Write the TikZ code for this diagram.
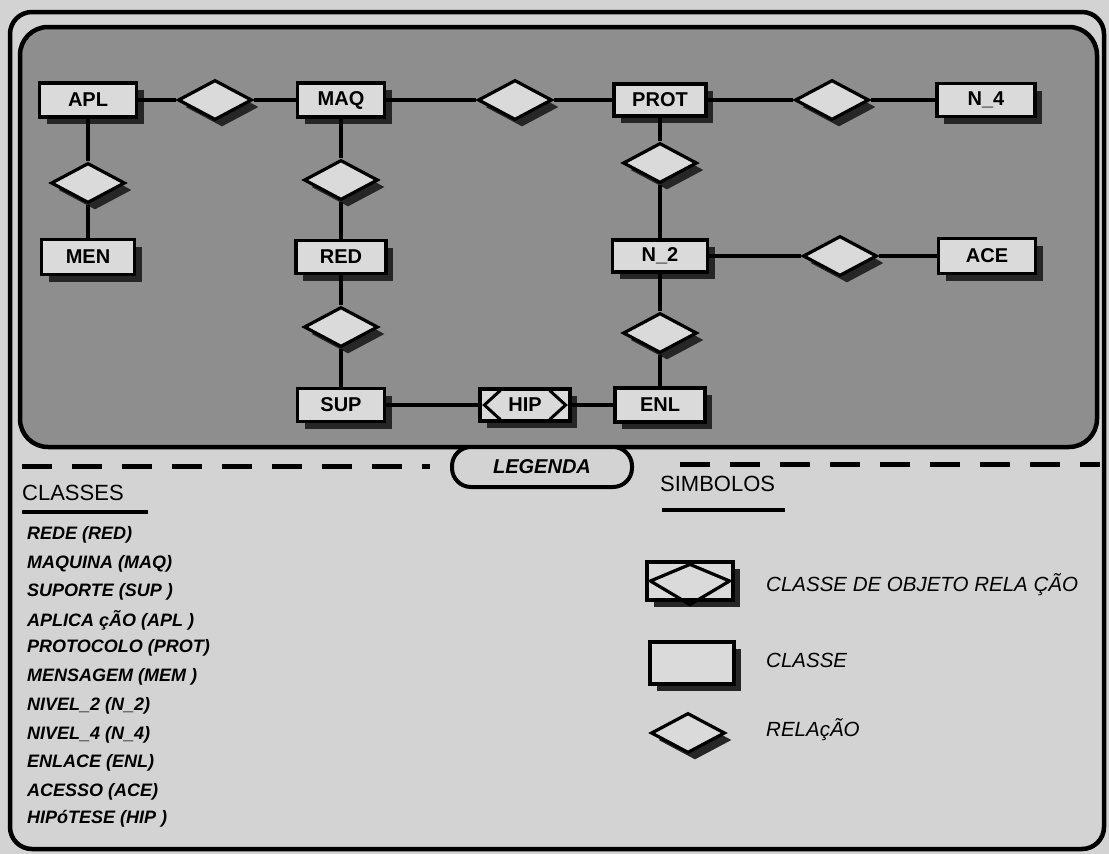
\documentclass[tikz,border=0pt]{standalone}
\usepackage{fontspec}
\setmainfont{Liberation Sans}
\usetikzlibrary{shapes.geometric,shadows,calc}
\newcommand\fsz[1]{\fontsize{#1}{#1}\selectfont}
\definecolor{bg}{HTML}{D3D3D3}
\definecolor{panel}{HTML}{8E8E8E}
\definecolor{boxfill}{HTML}{DADADA}
\begin{document}
\begin{tikzpicture}[x=1pt,y=-1pt,
  shad/.style={drop shadow={shadow xshift=7pt,shadow yshift=-7pt,fill=black!85,opacity=1}},
  cls/.style={draw=black,line width=3.2pt,fill=boxfill,minimum width=92pt,minimum height=34pt,
    inner sep=0pt,font=\bfseries\fsz{20},shad},
  rel/.style={diamond,draw=black,line width=3.2pt,fill=boxfill,minimum width=74pt,minimum height=40pt,
    aspect=1.9,inner sep=0pt,shad},
  conn/.style={line width=4.5pt},
  item/.style={anchor=west,inner sep=0pt,font=\bfseries\itshape\fsz{18}},
  symtxt/.style={anchor=west,inner sep=0pt,font=\itshape\fsz{20.5}},
  head/.style={anchor=west,inner sep=0pt,font=\fsz{22}},
  dashline/.style={line width=5pt,dash pattern=on 30pt off 20pt}]
\useasboundingbox (0,0) rectangle (1109,854);
\fill[bg] (0,0) rectangle (1109,854);
% frames
\draw[line width=4.5pt,rounded corners=22pt] (10,12) rectangle (1104,849);
\draw[line width=4.5pt,rounded corners=28pt,fill=panel] (20,27) rectangle (1097,447);
% class nodes
\node[cls,minimum width=97pt] (APL) at (88,100) {APL};
\node[cls,minimum width=87pt] (MAQ) at (341,100) {MAQ};
\node[cls,minimum width=92pt,minimum height=32pt] (PROT) at (660,100) {PROT};
\node[cls,minimum width=98pt,minimum height=33pt] (N4) at (986,100) {N\_4};
\node[cls,minimum width=93pt,minimum height=35pt] (MEN) at (88,257) {MEN};
\node[cls,minimum width=90pt,minimum height=33pt] (RED) at (341,257) {RED};
\node[cls,minimum width=95pt,minimum height=32pt] (N2) at (660,256) {N\_2};
\node[cls,minimum width=97pt,minimum height=35pt] (ACE) at (987,256) {ACE};
\node[cls,minimum width=87pt,minimum height=33pt] (SUP) at (341,405) {SUP};
\node[cls,minimum width=90pt,minimum height=34pt] (ENL) at (660,405) {ENL};
\node[cls,minimum width=90pt,minimum height=32pt] (HIP) at (525,405) {HIP};
\draw[line width=3pt] ($(HIP.north west)+(22,3)$) -- ($(HIP.west)+(6,0)$) -- ($(HIP.south west)+(22,-3)$);
\draw[line width=3pt] ($(HIP.north east)+(-22,3)$) -- ($(HIP.east)+(-6,0)$) -- ($(HIP.south east)+(-22,-3)$);
% relation diamonds
\node[rel] (r1) at (215,100) {};
\node[rel] (r2) at (515,100) {};
\node[rel] (r3) at (832,100) {};
\node[rel] (r4) at (88,183) {};
\node[rel] (r5) at (341,180) {};
\node[rel] (r6) at (341,327) {};
\node[rel] (r7) at (660,163) {};
\node[rel] (r8) at (840,256) {};
\node[rel] (r9) at (660,333) {};
% connectors
\draw[conn] (APL) -- (r1) -- (MAQ);
\draw[conn] (MAQ) -- (r2) -- (PROT);
\draw[conn] (PROT) -- (r3) -- (N4);
\draw[conn] (APL) -- (r4) -- (MEN);
\draw[conn] (MAQ) -- (r5) -- (RED);
\draw[conn] (RED) -- (r6) -- (SUP);
\draw[conn] (PROT) -- (r7) -- (N2);
\draw[conn] (N2) -- (r8) -- (ACE);
\draw[conn] (N2) -- (r9) -- (ENL);
\draw[conn] (SUP) -- (HIP) -- (ENL);
% legend header
\coordinate (dl1) at (22,466);
\coordinate (dl2) at (430,466);
\coordinate (dr1) at (680,464);
\coordinate (dr2) at (1100,464);
\draw[dashline] (dl1) -- (dl2);
\draw[dashline] (dr1) -- (dr2);
\node[draw=black,line width=4pt,rounded corners=19pt,fill=bg,minimum width=180pt,minimum height=40pt,
  inner sep=0pt,font=\bfseries\itshape\fsz{20}] (LEG) at (542,467) {LEGENDA};
% classes list
\node[head] (CLS) at (22,493) {CLASSES};
\coordinate (u1) at (22,512); \coordinate (u2) at (148,512);
\draw[line width=4pt] (u1) -- (u2);
\node[item] (i1) at (27,535) {REDE (RED)};
\node[item] (i2) at (27,563.5) {MAQUINA (MAQ)};
\node[item] (i3) at (27,592) {SUPORTE (SUP )};
\node[item] (i4) at (27,620) {APLICA çÃO (APL )};
\node[item] (i5) at (27,648) {PROTOCOLO (PROT)};
\node[item] (i6) at (27,677) {MENSAGEM (MEM )};
\node[item] (i7) at (27,706) {NIVEL\_2 (N\_2)};
\node[item] (i8) at (27,735) {NIVEL\_4 (N\_4)};
\node[item] (i9) at (27,763) {ENLACE (ENL)};
\node[item] (i10) at (27,792) {ACESSO (ACE)};
\node[item] (i11) at (27,819) {HIPóTESE (HIP )};
% symbols
\node[head] (SIM) at (660,484) {SIMBOLOS};
\coordinate (s1) at (662,510); \coordinate (s2) at (785,510);
\draw[line width=4pt] (s1) -- (s2);
\node[cls,minimum width=86pt,minimum height=38pt] (symA) at (690,581) {};
\draw[line width=3.2pt] ($(symA.west)+(5,0)$) -- ($(symA.north)+(0,4)$) -- ($(symA.east)+(-5,0)$) -- ($(symA.south)+(0,3)$) -- cycle;
\node[symtxt] (tA) at (766,585) {CLASSE DE OBJETO RELA ÇÃO};
\node[cls,minimum width=84pt,minimum height=42pt] (symC) at (692,663) {};
\node[symtxt] (tC) at (766,660) {CLASSE};
\node[rel] (symR) at (688,733) {};
\node[symtxt] (tR) at (766,730) {RELAçÃO};
\end{tikzpicture}
\end{document}
